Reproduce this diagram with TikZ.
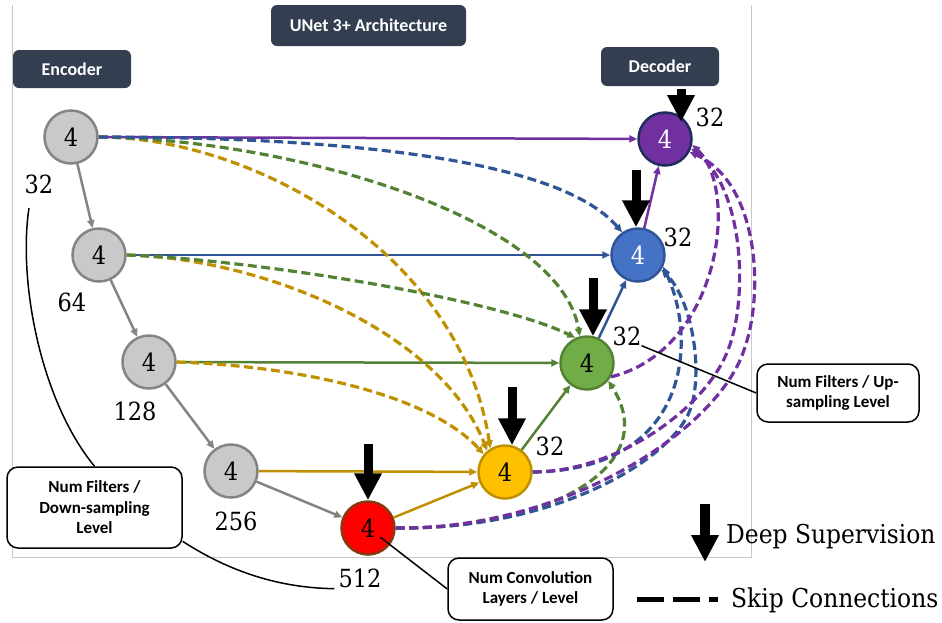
\documentclass[tikz,border=0pt]{standalone}
\usepackage{fontspec}
\newfontfamily\boxfont{Carlito}
\newfontfamily\serifnum{DejaVu Serif Condensed}
\usetikzlibrary{arrows.meta,calc}

\definecolor{encfill}{HTML}{C9C9C9}
\definecolor{encline}{HTML}{848484}
\definecolor{redfill}{HTML}{FF0000}
\definecolor{redline}{HTML}{843C0C}
\definecolor{yelfill}{HTML}{FFC000}
\definecolor{goldline}{HTML}{BF9000}
\definecolor{grnfill}{HTML}{70AD47}
\definecolor{grnline}{HTML}{548235}
\definecolor{blufill}{HTML}{4472C4}
\definecolor{bluline}{HTML}{2F5597}
\definecolor{purfill}{HTML}{7030A0}
\definecolor{purline}{HTML}{7030A0}
\definecolor{navyline}{HTML}{1F2C5C}
\definecolor{slate}{HTML}{333F50}
\definecolor{framegray}{HTML}{C8C8C8}

\newcommand\numfont{\serifnum\fontsize{25}{27}\selectfont}
\newcommand\legendfont{\serifnum\fontsize{26}{28}\selectfont}

\tikzset{
  layer/.style={circle, line width=2.5pt, minimum size=53pt, inner sep=0pt, font=\numfont},
  encnode/.style={layer, draw=encline, fill=encfill},
  bottomnode/.style={layer, draw=redline, fill=redfill},
  d4node/.style={layer, draw=goldline, fill=yelfill},
  d3node/.style={layer, draw=grnline, fill=grnfill},
  d2node/.style={layer, draw=bluline, fill=blufill, text=white},
  d1node/.style={layer, draw=navyline, fill=purfill, text=white},
  header/.style={rectangle, rounded corners=6pt, fill=slate, text=white,
    font=\boxfont\bfseries\fontsize{18}{20}\selectfont, inner sep=0pt},
  note/.style={rectangle, rounded corners=11pt, draw=black, line width=1.5pt, fill=white,
    align=center, inner sep=0pt, font=\boxfont\bfseries\fontsize{17}{20.5}\selectfont},
  numlabel/.style={inner sep=0pt, font=\numfont},
  tip/.style={-{Triangle[length=8pt,width=7pt]}},
  down/.style={tip, draw=encline, line width=2.5pt},
  flowgold/.style={tip, draw=goldline, line width=2.5pt},
  flowgreen/.style={tip, draw=grnline, line width=2.5pt},
  flowblue/.style={tip, draw=bluline, line width=2.5pt},
  flowpurple/.style={tip, draw=purline, line width=2.5pt},
  skiplink/.style={tip, line width=3.2pt, dash pattern=on 9pt off 4.5pt},
  skipgold/.style={skiplink, draw=goldline},
  skipgreen/.style={skiplink, draw=grnline},
  skipblue/.style={skiplink, draw=bluline},
  skippurple/.style={skiplink, draw=purline},
  deepsup/.style={draw=black, line width=9pt, -{Triangle[length=27pt,width=26pt]}},
  callout/.style={draw=black, line width=1.5pt},
}

\begin{document}
\begin{tikzpicture}[x=1pt, y=-1pt]
\useasboundingbox (0,0) rectangle (942,622);

% light frame round the network
\draw[framegray, line width=1pt] (12,5) -- (12,557) -- (751,557) -- (751,5);

% headings
\node[header, minimum width=195pt, minimum height=41pt] (title) at (368.5,25.5) {UNet 3+ Architecture};
\node[header, minimum width=118pt, minimum height=38pt] (enchead) at (72,69) {Encoder};
\node[header, minimum width=118pt, minimum height=39pt] (dechead) at (660,66.5) {Decoder};

% encoder and decoder stages
\node[encnode] (E1) at (71,137) {4};
\node[encnode] (E2) at (99,255) {4};
\node[encnode] (E3) at (149,362) {4};
\node[encnode] (E4) at (231,471) {4};
\node[bottomnode] (E5) at (368,528) {4};
\node[d4node] (D4) at (505,472) {4};
\node[d3node] (D3) at (587,363) {4};
\node[d2node] (D2) at (638,255) {4};
\node[d1node] (D1) at (665,139) {4};

% filter counts
\node[numlabel] (L1) at (39,184) {32};
\node[numlabel] (L2) at (72,302) {64};
\node[numlabel] (L3) at (135,411) {128};
\node[numlabel] (L4) at (236,521) {256};
\node[numlabel] (L5) at (360,578) {512};
\node[numlabel] (R1) at (710,117) {32};
\node[numlabel] (R2) at (678,237) {32};
\node[numlabel] (R3) at (627,336) {32};
\node[numlabel] (R4) at (550,446) {32};

% solid connections
\draw[flowpurple] (E1) -- (D1);
\draw[flowblue] (E2) -- (D2);
\draw[flowgreen] (E3) -- (D3);
\draw[flowgold] (E4) -- (D4);
\draw[flowgold] (E5) -- (D4);
\draw[flowgreen] (D4) -- (D3);
\draw[flowblue] (D3) -- (D2);
\draw[flowpurple] (D2) -- (D1);

% down-sampling path
\draw[down] (E1) -- (E2);
\draw[down] (E2) -- (E3);
\draw[down] (E3) -- (E4);
\draw[down] (E4) -- (E5);

% skip connections into the fourth decoder stage
\draw[skipgold] (E3.east) .. controls (300,366) and (430,395) .. (D4.140);
\draw[skipgold] (E2.east) .. controls (260,258) and (440,330) .. (D4.130);
\draw[skipgold] (E1.east) .. controls (250,137) and (460,250) .. (D4.122);

% skip connections into the third decoder stage
\draw[skipgreen] (E2.east) .. controls (260,260) and (500,300) .. (D3.115);
\draw[skipgreen] (E1.east) .. controls (300,140) and (560,220) .. (D3.105);
\draw[skipgreen] (E5.east) .. controls (540,530) and (665,470) .. (D3.-40);

% skip connections into the second decoder stage
\draw[skipblue] (E1.east) .. controls (350,137) and (560,160) .. (D2.125);
\draw[skipblue] (D4.east) .. controls (690,470) and (698,340) .. (D2.-25);
\draw[skipblue] (E5.east) .. controls (560,530) and (673,457) .. (690,410)
  .. controls (704,372) and (692,300) .. (D2.-32);

% skip connections into the first decoder stage
\draw[skippurple] (D3.-30) .. controls (720,350) and (740,190) .. (D1.-12);
\draw[skippurple] (D4.east) .. controls (615,472) and (705,410) .. (728,350)
  .. controls (748,300) and (745,190) .. (D1.-20);
\draw[skippurple] (E5.east) .. controls (565,530) and (718,430) .. (744,350)
  .. controls (765,292) and (758,182) .. (D1.-28);

% deep supervision
\draw[deepsup] ($(D1.center)+(16,-50)$) -- ($(D1.center)+(16,-17)$);
\draw[deepsup] ($(D2.north)+(-2,-57)$) -- ($(D2.north)+(-2,0)$);
\draw[deepsup] ($(D3.north)+(6,-57)$) -- ($(D3.north)+(6,1)$);
\draw[deepsup] ($(D4.north)+(7,-57)$) -- ($(D4.north)+(7,1)$);
\draw[deepsup] ($(E5.north)+(0,-56)$) -- ($(E5.north)+(0,0)$);

% annotation boxes
\node[note, minimum width=175pt, minimum height=81pt] (downnote) at (94.5,507.5) {Num Filters /\\Down-sampling\\Level};
\node[note, minimum width=165pt, minimum height=62pt] (convnote) at (530.5,589) {Num Convolution\\Layers / Level};
\node[note, minimum width=162pt, minimum height=58pt] (upnote) at (838,393) {Num Filters / Up-\\sampling Level};

% annotation leaders
\coordinate (leadtop) at (29,208);
\draw[callout] (leadtop) .. controls (18,280) and (40,400) .. (downnote.north);
\draw[callout] (downnote.-21) .. controls (230,572) and (280,588) .. ($(L5.south west)+(-4,1)$);
\draw[callout] ($(E5.center)+(12,9)$) -- (convnote.west);
\draw[callout] (R3.south east) -- (upnote.west);

% legend
\coordinate (dsA) at (705,504);
\coordinate (dsB) at (705,562);
\draw[deepsup, line width=10pt] (dsA) -- (dsB);
\node[inner sep=0pt, anchor=base west, font=\legendfont] (dslabel) at (726,543) {Deep Supervision};
\coordinate (skA) at (637,599);
\coordinate (skB) at (718,599);
\draw[line width=5pt, dash pattern=on 27pt off 9pt] (skA) -- (skB);
\node[inner sep=0pt, anchor=base west, font=\legendfont] (sklabel) at (731,607) {Skip Connections};
\end{tikzpicture}
\end{document}
